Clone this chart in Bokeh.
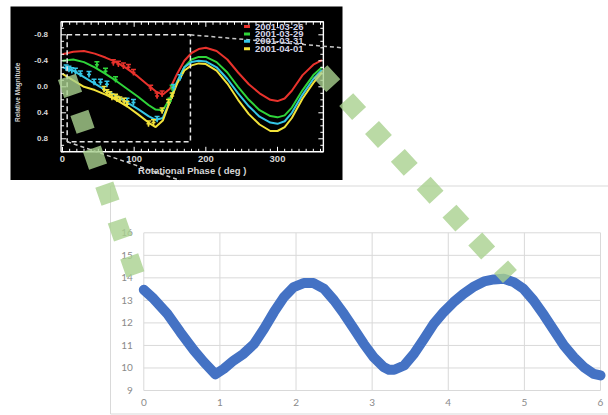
import math
from bokeh.plotting import figure
from bokeh.models import Range1d
from bokeh.core.properties import value
from bokeh.embed import file_html
from bokeh.resources import INLINE

# ---------------- main chart data ----------------
main_x = [0.00, 0.13, 0.31, 0.48, 0.66, 0.79, 0.94, 1.05, 1.18, 1.31, 1.45, 1.58, 1.71,
          1.84, 1.97, 2.10, 2.23, 2.37, 2.50, 2.63, 2.76, 2.89, 3.02, 3.15, 3.22, 3.29,
          3.42, 3.55, 3.68, 3.81, 3.94, 4.07, 4.20, 4.34, 4.47, 4.60, 4.73, 4.86, 4.99,
          5.12, 5.26, 5.39, 5.52, 5.65, 5.78, 5.91, 6.00]
main_y = [13.47, 13.07, 12.40, 11.59, 10.78, 10.26, 9.72, 9.96, 10.33, 10.63, 11.07, 11.74, 12.48,
          13.14, 13.59, 13.77, 13.77, 13.51, 13.00, 12.40, 11.74, 11.07, 10.48, 10.04, 9.92, 9.92,
          10.11, 10.63, 11.29, 11.96, 12.48, 12.92, 13.29, 13.62, 13.84, 13.93, 13.96, 13.81, 13.51,
          13.00, 12.33, 11.66, 11.00, 10.48, 10.04, 9.74, 9.67]
main_xticks = [0, 1, 2, 3, 4, 5, 6]
main_yticks = [9, 10, 11, 12, 13, 14, 15, 16]

# ---------------- inset chart data ----------------
phase = [0, 15, 30, 45, 60, 75, 90, 105, 120, 130, 140, 150, 160, 170, 180, 190, 200,
         215, 230, 245, 260, 275, 290, 300, 310, 320, 335, 350, 362]
mag_0326 = [-0.50, -0.54, -0.55, -0.51, -0.45, -0.38, -0.28, -0.16, -0.02, 0.07, 0.12, 0.03, -0.20,
            -0.40, -0.52, -0.58, -0.60, -0.55, -0.42, -0.22, -0.04, 0.10, 0.20, 0.22, 0.18, 0.06,
            -0.18, -0.34, -0.41]
mag_0329 = [-0.40, -0.42, -0.38, -0.30, -0.20, -0.09, 0.03, 0.15, 0.28, 0.35, 0.36, 0.18, -0.08,
            -0.30, -0.42, -0.46, -0.46, -0.38, -0.22, 0.00, 0.20, 0.36, 0.45, 0.47, 0.44, 0.32,
            0.05, -0.18, -0.30]
mag_0331 = [-0.30, -0.25, -0.15, -0.05, 0.05, 0.14, 0.24, 0.34, 0.45, 0.51, 0.48, 0.22, -0.08,
            -0.30, -0.38, -0.40, -0.39, -0.30, -0.12, 0.10, 0.30, 0.46, 0.55, 0.57, 0.53, 0.40,
            0.12, -0.12, -0.26]
mag_0401 = [-0.20, -0.10, 0.00, 0.05, 0.12, 0.20, 0.30, 0.42, 0.55, 0.62, 0.52, 0.22, -0.05,
            -0.25, -0.33, -0.36, -0.35, -0.25, -0.05, 0.20, 0.42, 0.58, 0.68, 0.68, 0.62, 0.48,
            0.18, -0.06, -0.22]

obs_0326_x = [71, 78, 85, 92, 99, 123, 132, 139]
obs_0326_y = [-0.37, -0.35, -0.32, -0.30, -0.22, 0.02, 0.14, 0.11]
obs_0329_x = [48, 60, 74, 150, 153]
obs_0329_y = [-0.34, -0.24, -0.11, 0.22, 0.02]
obs_0331_x = [5, 9, 13, 18, 25, 37, 44, 53, 62, 90, 99, 132, 155, 164]
obs_0331_y = [-0.29, -0.27, -0.25, -0.24, -0.20, -0.19, -0.07, -0.07, -0.04, 0.22, 0.24, 0.50, 0.01, -0.14]
obs_0401_x = [58, 62, 66, 69, 74, 76, 80, 86, 90, 120, 127, 139, 148, 153]
obs_0401_y = [0.04, 0.09, 0.12, 0.16, 0.16, 0.19, 0.20, 0.22, 0.27, 0.57, 0.55, 0.37, 0.24, 0.14]
obs_err = 0.045

dates = ["2001-03-26", "2001-03-29", "2001-03-31", "2001-04-01"]
inset_xticks = [0, 100, 200, 300]
inset_xtick_labels = ["0", "100", "200", "300"]
inset_yticks = [-0.8, -0.4, 0.0, 0.4, 0.8]
inset_ytick_labels = ["-0.8", "-0.4", "0.0", "0.4", "0.8"]
inset_xminor = list(range(0, 361, 10))
inset_yminor = [-1.0, -0.9, -0.8, -0.7, -0.6, -0.5, -0.4, -0.3, -0.2, -0.1, 0.0,
                0.1, 0.2, 0.3, 0.4, 0.5, 0.6, 0.7, 0.8, 0.9, 1.0]
inset_xlim = [-2, 364]
inset_ylim = [-1.0, 1.0]

# zoom box and its guide lines (inset coordinates)
zoom_box_x = [6.5, 178.5]
zoom_box_y = [-0.8, 0.845]
guide_top_x = [178.5, 390.0]
guide_top_y = [-0.8, -0.6]
guide_bot_x = [6.5, 164.0]
guide_bot_y = [0.845, 1.44]

# connectors (main chart coordinates)
conn_left_x = [-1.01, -0.10]
conn_left_y = [22.92, 14.06]
conn_right_x = [2.32, 4.81]
conn_right_y = [23.15, 14.06]

# ---------------- layout ----------------
W, H = 608, 415
PG = 0  # page offset of the canvas


def xr(pa, va, pb, vb):
    a, b = pa - PG, pb - PG
    s = (vb - va) / (b - a)
    return Range1d(va - a * s, va + (W - a) * s)


def yr(pa, va, pb, vb):
    a, b = H - (pa - PG), H - (pb - PG)
    s = (vb - va) / (b - a)
    return Range1d(va - a * s, va + (H - a) * s)


p = figure(width=W, height=H, output_backend="svg", toolbar_location=None,
           x_axis_type=None, y_axis_type=None, min_border=0,
           outline_line_color=None, x_range=Range1d(0, W), y_range=Range1d(H, 0))
p.background_fill_color = "white"
p.border_fill_color = "white"

p.extra_x_ranges = {"main": xr(143.3, 0, 600.0, 6), "inset": xr(62.0, 0, 320.0, 360)}
p.extra_y_ranges = {"main": yr(390.0, 9, 232.3, 16), "inset": yr(34.3, -0.8, 138.3, 0.8)}
M = dict(x_range_name="main", y_range_name="main")
I = dict(x_range_name="inset", y_range_name="inset")

# ---------------- main chart ----------------
p.segment(x0=[110 - PG, 110 - PG, 110 - PG], y0=[185.5 - PG, 185.5 - PG, 413.5 - PG],
          x1=[W + 5, 110 - PG, W + 5], y1=[185.5 - PG, 413.5 - PG, 413.5 - PG],
          line_color="#d9d9d9", line_width=1)
p.segment(x0=main_xticks, x1=main_xticks, y0=[main_yticks[0]] * len(main_xticks),
          y1=[main_yticks[-1]] * len(main_xticks), line_color="#d9d9d9", line_width=1, **M)
p.segment(x0=[main_xticks[0]] * len(main_yticks), x1=[main_xticks[-1]] * len(main_yticks),
          y0=main_yticks, y1=main_yticks, line_color="#d9d9d9", line_width=1, **M)
p.text(x=main_xticks, y=[main_yticks[0]] * len(main_xticks), text=[str(t) for t in main_xticks],
       text_font=value("Lato"), text_font_size="10px", text_color="#8a8a8a",
       text_align="center", text_baseline="middle", y_offset=12, **M)
p.text(x=[main_xticks[0]] * len(main_yticks), y=main_yticks, text=[str(t) for t in main_yticks],
       text_font=value("Lato"), text_font_size="10px", text_color="#8a8a8a",
       text_align="right", text_baseline="middle", x_offset=-11, **M)
p.line(main_x, main_y, line_color="#4472C4", line_width=10, line_join="round",
       line_cap="round", **M)

# ---------------- inset ----------------
p.quad(left=[10 - PG], right=[342 - PG], top=[6 - PG], bottom=[179.5 - PG],
       fill_color="black", line_color=None)

curve_colors = ["#e8322c", "#2fd43a", "#35c6e6", "#f2e23a"]
for ys, c in zip([mag_0326, mag_0329, mag_0331, mag_0401], curve_colors):
    p.line(phase, ys, line_color=c, line_width=2, **I)

for xs, ys, c in zip([obs_0326_x, obs_0329_x, obs_0331_x, obs_0401_x],
                     [obs_0326_y, obs_0329_y, obs_0331_y, obs_0401_y], curve_colors):
    lo = [v + obs_err for v in ys]
    hi = [v - obs_err for v in ys]
    p.segment(x0=xs, x1=xs, y0=lo, y1=hi, line_color=c, line_width=1.5, **I)
    p.scatter(xs, hi, marker="dash", size=5, line_color=c, line_width=1.5, **I)
    p.scatter(xs, ys, marker="cross", size=4, line_color=c, line_width=1.5, **I)

# frame
p.quad(left=[inset_xlim[0]], right=[inset_xlim[1]], top=[inset_ylim[0]], bottom=[inset_ylim[1]],
       fill_color=None, line_color="white", line_width=1.4, **I)
dpx_x = 360 / (320.0 - 62.0)
dpx_y = 1.6 / (138.3 - 34.3)
xt_len = [(5 if t in inset_xticks else 3) for t in inset_xminor]
yt_len = [(5 if t in inset_yticks else 3) for t in inset_yminor]
p.segment(x0=inset_xminor, x1=inset_xminor, y0=[inset_ylim[1]] * len(inset_xminor),
          y1=[inset_ylim[1] - L * dpx_y for L in xt_len], line_color="white", line_width=1, **I)
p.segment(x0=inset_xminor, x1=inset_xminor, y0=[inset_ylim[0]] * len(inset_xminor),
          y1=[inset_ylim[0] + L * dpx_y for L in xt_len], line_color="white", line_width=1, **I)
p.segment(x0=[inset_xlim[0]] * len(inset_yminor), x1=[inset_xlim[0] + L * dpx_x for L in yt_len],
          y0=inset_yminor, y1=inset_yminor, line_color="white", line_width=1, **I)
p.segment(x0=[inset_xlim[1]] * len(inset_yminor), x1=[inset_xlim[1] - L * dpx_x for L in yt_len],
          y0=inset_yminor, y1=inset_yminor, line_color="white", line_width=1, **I)

# zoom box + guides
p.quad(left=[zoom_box_x[0]], right=[zoom_box_x[1]], top=[zoom_box_y[0]], bottom=[zoom_box_y[1]],
       fill_color=None, line_color="#e6e6e6", line_width=1.5, line_dash="5 3", **I)
p.line(guide_top_x, guide_top_y, line_color="#c8c8c8", line_width=1.5, line_dash="4 3", **I)
p.line(guide_bot_x, guide_bot_y, line_color="#c8c8c8", line_width=1.5, line_dash="4 3", **I)

# tick labels and titles
p.text(x=inset_xticks, y=[inset_ylim[1]] * len(inset_xticks), text=inset_xtick_labels,
       text_font=value("Liberation Sans"), text_font_style="bold", text_font_size="9.5px",
       text_color="#d6d6d6", text_align="center", text_baseline="middle", y_offset=7, **I)
p.text(x=[inset_xlim[0]] * len(inset_yticks), y=inset_yticks, text=inset_ytick_labels,
       text_font=value("Liberation Sans"), text_font_style="bold", text_font_size="8px",
       text_color="#d6d6d6", text_align="right", text_baseline="middle", x_offset=-13, **I)
p.text(x=[(inset_xlim[0] + inset_xlim[1]) / 2], y=[inset_ylim[1]], text=["Rotational Phase ( deg )"],
       text_font=value("Liberation Sans"), text_font_style="bold", text_font_size="9.5px",
       text_color="#d6d6d6", text_align="center", text_baseline="middle", y_offset=19, **I)
p.text(x=[inset_xlim[0]], y=[0.085], text=["Relative Magnitude"],
       text_font=value("Liberation Sans"), text_font_style="bold", text_font_size="6.5px",
       text_color="#d6d6d6", text_align="center", text_baseline="middle", x_offset=-44,
       angle=math.pi / 2, **I)

# legend
leg_y = [26.0 + 7.4 * i - PG for i in range(len(dates))]
p.rect(x=[246.5 - PG] * len(dates), y=leg_y, width=6, height=3, width_units="screen",
       height_units="screen", fill_color=curve_colors, line_color=None)
p.text(x=[254.5 - PG] * len(dates), y=leg_y, text=dates,
       text_font=value("Liberation Sans"), text_font_style="bold", text_font_size="9.5px",
       text_color="#d4d4e6", text_align="left", text_baseline="middle")

# ---------------- connectors ----------------
for cx_, cy_ in [(conn_left_x, conn_left_y), (conn_right_x, conn_right_y)]:
    p.line(cx_, cy_, line_color="#A9D18E", line_alpha=0.8, line_width=19,
           line_dash="19 19", line_cap="butt", **M)

open("out.html", "w").write(file_html(p, INLINE))
